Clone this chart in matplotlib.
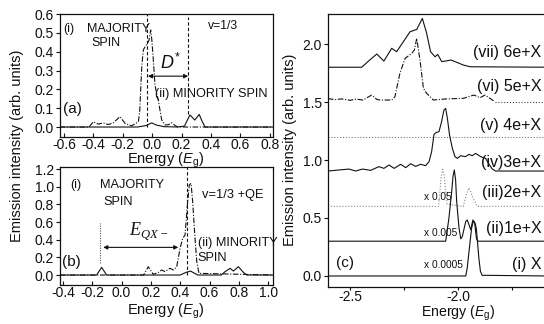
import matplotlib
matplotlib.use("Agg")
import matplotlib.pyplot as plt

plt.rcParams['font.family'] = ['Liberation Sans', 'DejaVu Sans']
plt.rcParams['mathtext.fontset'] = 'custom'
plt.rcParams['mathtext.it'] = 'Liberation Sans:italic'
plt.rcParams['mathtext.rm'] = 'Liberation Sans'
plt.rcParams['mathtext.sf'] = 'Liberation Serif:italic'

# ---------------- panel (a): nu = 1/3 ----------------
a_maj_E = [-0.63, -0.43, -0.40, -0.367, -0.333, -0.299, -0.265, -0.219, -0.185, -0.14,
           -0.094, -0.085, -0.078, -0.070, -0.060, -0.045, -0.035, -0.022, -0.010, -0.002,
           0.008, 0.019, 0.030, 0.042, 0.053, 0.065, 0.087, 0.11, 0.133, 0.155, 0.175, 0.82]
a_maj_I = [0.0, 0.0, 0.028, 0.015, 0.022, 0.013, 0.022, 0.055, 0.020, 0.006,
           0.028, 0.08, 0.20, 0.33, 0.41, 0.43, 0.44, 0.46, 0.515, 0.46,
           0.356, 0.223, 0.18, 0.143, 0.09, 0.037, 0.011, 0.012, 0.023, 0.008, 0.0, 0.0]
a_min_E = [-0.63, -0.10, -0.04, -0.003, 0.03, 0.08, 0.17, 0.22, 0.235, 0.257, 0.29, 0.32, 0.34, 0.36, 0.82]
a_min_I = [0.0, 0.0, 0.008, 0.022, 0.01, 0.002, 0.0, 0.005, 0.03, 0.064, 0.037, 0.067, 0.03, 0.0, 0.0]
a_maj_line = -0.037
a_min_line = 0.245
a_xticks = [-0.6, -0.4, -0.2, 0.0, 0.2, 0.4, 0.6, 0.8]
a_xlabels = ['-0.6', '-0.4', '-0.2', '0.0', '0.2', '0.4', '0.6', '0.8']
a_yticks = [0.0, 0.1, 0.2, 0.3, 0.4, 0.5, 0.6]
a_ylabels = ['0.0', '0.1', '0.2', '0.3', '0.4', '0.5', '0.6']

# ---------------- panel (b): nu = 1/3 + QE ----------------
b_maj_E = [-0.42, 0.15, 0.182, 0.216, 0.251, 0.274, 0.296, 0.33, 0.353, 0.376, 0.399,
           0.417, 0.433, 0.449, 0.462, 0.474, 0.485, 0.501, 0.513, 0.528, 1.033]
b_maj_I = [0.0, 0.0, 0.094, 0.008, 0.03, 0.057, 0.038, 0.076, 0.057, 0.094, 0.30,
           0.415, 0.453, 0.793, 1.02, 1.038, 0.83, 0.415, 0.151, 0.019, 0.0]
b_min_E = [-0.42, -0.17, -0.136, -0.102, 0.40, 0.44, 0.47, 0.52, 0.68, 0.706, 0.74,
           0.763, 0.797, 0.831, 0.854, 1.033]
b_min_I = [0.0, 0.0, 0.087, 0.0, 0.0, 0.03, 0.045, 0.0, 0.0, 0.038, 0.076,
           0.045, 0.094, 0.03, 0.0, 0.0]
b_qe_line = -0.147
b_peak_line = 0.444
b_xticks = [-0.4, -0.2, 0.0, 0.2, 0.4, 0.6, 0.8, 1.0]
b_xlabels = ['-0.4', '-0.2', '0.0', '0.2', '0.4', '0.6', '0.8', '1.0']
b_yticks = [0.0, 0.2, 0.4, 0.6, 0.8, 1.0, 1.2]
b_ylabels = ['0.0', '0.2', '0.4', '0.6', '0.8', '1.0', '1.2']

# ---------------- panel (c): N electrons + exciton ----------------
c7_E = [-2.602, -2.446, -2.41, -2.376, -2.343, -2.307, -2.284, -2.253, -2.222, -2.191, -2.165,
        -2.145, -2.127, -2.106, -2.094, -2.075, -2.032, -1.975, -1.944, -1.583]
c7_I = [1.80, 1.80, 1.86, 1.914, 1.853, 1.963, 1.934, 2.02, 2.106, 2.126, 2.221,
        2.092, 1.934, 1.890, 1.911, 1.848, 1.862, 1.819, 1.804, 1.80]
c6_E = [-2.602, -2.57, -2.54, -2.50, -2.47, -2.44, -2.400, -2.376, -2.361, -2.307, -2.292,
        -2.269, -2.245, -2.214, -2.202, -2.191, -2.176, -2.160, -2.145, -2.114, -2.060,
        -1.975, -1.926, -1.898, -1.875, -1.829]
c6_I = [1.53, 1.52, 1.527, 1.515, 1.525, 1.517, 1.56, 1.523, 1.517, 1.517, 1.546,
        1.747, 1.876, 1.920, 1.948, 2.049, 1.862, 1.618, 1.575, 1.517, 1.526,
        1.532, 1.560, 1.537, 1.560, 1.503]
c6_tail_E = [-1.829, -1.583]
c6_tail_I = [1.50, 1.50]
c5_E = [-2.602, -1.583]
c5_I = [1.20, 1.20]
c4_E = [-2.602, -2.551, -2.505, -2.474, -2.443, -2.404, -2.366, -2.343, -2.319, -2.296,
        -2.265, -2.242, -2.219, -2.196, -2.173, -2.150, -2.134, -2.122, -2.111, -2.100,
        -2.088, -2.076, -2.065, -2.057, -2.049, -2.039, -2.026, -2.014, -2.003, -1.988,
        -1.965, -1.949, -1.934, -1.918, -1.895, -1.872, -1.856, -1.841, -1.826, -1.583]
c4_I = [0.905, 0.914, 0.922, 0.905, 0.922, 0.911, 0.943, 0.928, 0.957, 0.928,
        0.963, 0.934, 0.968, 0.945, 0.963, 0.951, 0.986, 1.072, 1.221, 1.238,
        1.244, 1.330, 1.431, 1.445, 1.359, 1.215, 1.101, 1.029, 1.014, 1.037,
        1.029, 1.049, 1.037, 1.057, 1.029, 1.014, 0.963, 0.922, 0.905, 0.905]
c3_E = [-2.602, -2.09, -2.085, -2.078, -2.072, -2.065, -2.058, -2.05, -1.975, -1.962,
        -1.950, -1.940, -1.925, -1.91, -1.583]
c3_I = [0.6, 0.6, 0.70, 0.85, 0.92, 0.88, 0.75, 0.62, 0.6, 0.70,
        0.76, 0.72, 0.65, 0.6, 0.6]
c2_E = [-2.602, -2.057, -2.042, -2.029, -2.023, -2.017, -2.011, -2.006, -1.995, -1.987,
        -1.980, -1.964, -1.957, -1.941, -1.931, -1.923, -1.914, -1.907, -1.583]
c2_I = [0.30, 0.30, 0.497, 0.727, 0.86, 0.914, 0.83, 0.64, 0.41, 0.32,
        0.34, 0.47, 0.483, 0.40, 0.483, 0.46, 0.32, 0.30, 0.30]
c1_E = [-2.602, -1.964, -1.957, -1.949, -1.937, -1.931, -1.926, -1.920, -1.915, -1.909,
        -1.903, -1.896, -1.888, -1.583]
c1_I = [0.0, 0.0, 0.07, 0.21, 0.41, 0.46, 0.47, 0.45, 0.41, 0.28,
        0.15, 0.04, 0.006, 0.0]
c_names = ['(vii) 6e+X', '(vi) 5e+X', '(v) 4e+X', '(iv)3e+X', '(iii)2e+X', '(ii)1e+X', '(i) X']
c_name_y = [1.93, 1.63, 1.30, 0.98, 0.72, 0.41, 0.095]
c_scales = ['x 0.05', 'x 0.005', 'x 0.0005']
c_scale_y = [0.68, 0.37, 0.095]
c_xticks = [-2.5, -2.25, -2.0, -1.75]
c_xlabels = ['-2.5', '', '-2.0', '']
c_yticks = [0.0, 0.5, 1.0, 1.5, 2.0]
c_ylabels = ['0.0', '0.5', '1.0', '1.5', '2.0']

W, H = 544, 324
fig = plt.figure(figsize=(W / 100, H / 100), dpi=100)
fig.patch.set_facecolor('white')


def box(l, t, r, b):
    return [l / W, 1 - b / H, (r - l) / W, (b - t) / H]


axA = fig.add_axes(box(60, 14, 273, 137))
axB = fig.add_axes(box(60, 167, 273, 285))
axC = fig.add_axes(box(328, 14, 548, 287))

dashdot = (0, (5, 1.5, 1, 1.5))
lw = 0.8
ink = '#111111'

for ax in (axA, axB, axC):
    for s in ax.spines.values():
        s.set_linewidth(0.9)
        s.set_color(ink)
    ax.tick_params(direction='out', length=3, width=0.8, labelsize=10, pad=1.5, colors=ink)
for ax in (axA, axB):
    ax.tick_params(axis='x', direction='in', length=3, pad=0.5)

# panel (a)
axA.plot(a_maj_E, a_maj_I, color=ink, lw=lw, ls=dashdot)
axA.plot(a_min_E, a_min_I, color=ink, lw=lw)
axA.plot([a_maj_line, a_maj_line], [0.0, 0.6], color=ink, lw=0.8, ls=(0, (3, 2)))
axA.plot([a_min_line, a_min_line], [0.07, 0.585], color=ink, lw=0.8, ls=(0, (3, 2)))
axA.annotate('', xy=(a_min_line, 0.27), xytext=(a_maj_line + 0.008, 0.27),
             arrowprops=dict(arrowstyle='<|-|>', color=ink, lw=0.8, mutation_scale=6,
                             shrinkA=0, shrinkB=0))
axA.text(0.05, 0.34, r'$D^{*}$', fontsize=13, color=ink, va='center')
axA.text(-0.607, 0.52, '(i)', fontsize=9, va='center', color=ink)
axA.text(-0.443, 0.52, 'MAJORITY', fontsize=9, va='center', color=ink)
axA.text(-0.41, 0.446, 'SPIN', fontsize=9, va='center', color=ink)
axA.text(0.38, 0.536, 'v=1/3', fontsize=8.7, va='center', color=ink)
axA.text(0.019, 0.175, '(ii) MINORITY SPIN', fontsize=9.2, va='center', color=ink)
axA.text(-0.607, 0.096, '(a)', fontsize=11, va='center', color=ink)
axA.set_xlim(-0.627, 0.822)
axA.set_ylim(-0.053, 0.600)
axA.set_xticks(a_xticks, a_xlabels)
axA.set_yticks(a_yticks, a_ylabels)

# panel (b)
axB.plot(b_maj_E, b_maj_I, color=ink, lw=lw, ls=dashdot)
axB.plot(b_min_E, b_min_I, color=ink, lw=lw)
axB.plot([b_qe_line, b_qe_line], [0.132, 0.585], color='#555555', lw=0.8, ls=(0, (1, 1.2)))
axB.plot([b_peak_line, b_peak_line], [0.0, 1.22], color=ink, lw=0.8, ls=(0, (3, 2)))
axB.annotate('', xy=(0.387, 0.313), xytext=(-0.125, 0.313),
             arrowprops=dict(arrowstyle='<|-|>', color=ink, lw=0.8, mutation_scale=6,
                             shrinkA=0, shrinkB=0))
axB.text(0.05, 0.50, r'$\mathsf{E}_{\mathsf{QX-}}$', fontsize=13, color=ink, va='center')
axB.text(-0.352, 1.02, '(i)', fontsize=9, va='center', color=ink)
axB.text(-0.147, 1.02, 'MAJORITY', fontsize=9.2, va='center', color=ink)
axB.text(-0.127, 0.83, 'SPIN', fontsize=9.2, va='center', color=ink)
axB.text(0.549, 0.906, 'v=1/3 +QE', fontsize=9.3, va='center', color=ink)
axB.text(0.52, 0.362, '(ii) MINORITY', fontsize=9.2, va='center', color=ink)
axB.text(0.52, 0.196, 'SPIN', fontsize=9.2, va='center', color=ink)
axB.text(-0.407, 0.15, '(b)', fontsize=11, va='center', color=ink)
axB.set_xlim(-0.42, 1.033)
axB.set_ylim(-0.113, 1.223)
axB.set_xticks(b_xticks, b_xlabels)
axB.set_yticks(b_yticks, b_ylabels)

# panel (c)
dotted = (0, (1, 1.6))
axC.plot(c7_E, c7_I, color=ink, lw=lw)
axC.plot(c6_E, c6_I, color=ink, lw=lw, ls=dashdot)
axC.plot(c6_tail_E, c6_tail_I, color='#444444', lw=lw, ls=dotted)
axC.plot(c5_E, c5_I, color='#777777', lw=lw, ls=dotted)
axC.plot(c4_E, c4_I, color=ink, lw=lw)
axC.plot(c3_E, c3_I, color='#888888', lw=lw, ls=dotted)
axC.plot(c2_E, c2_I, color=ink, lw=lw)
axC.plot(c1_E, c1_I, color=ink, lw=lw)
for name, y in zip(c_names, c_name_y):
    axC.text(-1.614, y, name, fontsize=11.5, ha='right', va='center', color=ink)
for name, y in zip(c_scales, c_scale_y):
    axC.text(-2.157, y, name, fontsize=7.3, ha='left', va='center', color=ink)
axC.text(-2.565, 0.11, '(c)', fontsize=11, va='center', color=ink)
axC.set_xlim(-2.602, -1.583)
axC.set_ylim(-0.095, 2.259)
axC.set_xticks(c_xticks, c_xlabels)
axC.set_yticks(c_yticks, c_ylabels)
axC.tick_params(axis='x', length=2.5, pad=0)

# axis titles
elab = r'Energy ($E_{\mathrm{g}}$)'
fig.text(166 / W, 1 - 160 / H, elab, fontsize=10.5, ha='center', va='center', color=ink)
fig.text(166 / W, 1 - 311 / H, elab, fontsize=10.5, ha='center', va='center', color=ink)
fig.text(458 / W, 1 - 313.5 / H, elab, fontsize=10.2, ha='center', va='center', color=ink)
ylab = 'Emission intensity (arb. units)'
fig.text(17 / W, 1 - 146 / H, ylab, fontsize=10.5, rotation=90, ha='center', va='center', color=ink)
fig.text(290 / W, 1 - 150 / H, ylab, fontsize=10.5, rotation=90, ha='center', va='center', color=ink)

fig.savefig('out.png', dpi=100, facecolor='white')
